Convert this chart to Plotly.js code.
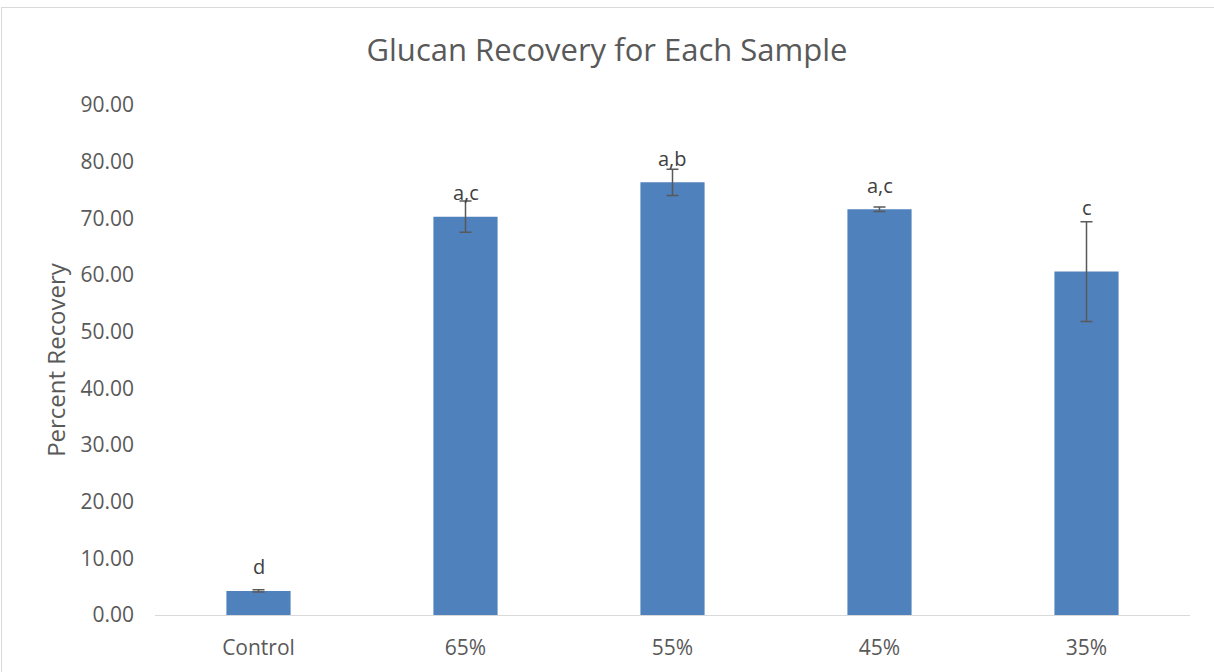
<!DOCTYPE html>
<html><head><meta charset="utf-8">
<script src="https://cdn.plot.ly/plotly-3.0.1.min.js"></script>
<style>
html,body{margin:0;padding:0;background:#fff;overflow:hidden;}
#chart{width:1214px;height:672px;position:absolute;left:0;top:0;}
#frame{position:absolute;left:1px;top:7px;width:1230px;height:700px;border:1px solid #d9d9d9;pointer-events:none;}
</style></head>
<body>
<div id="chart"></div>
<div id="frame"></div>
<script>
const categories = ["Control", "65%", "55%", "45%", "35%"];
const recovery = [4.24, 70.3, 76.35, 71.6, 60.6];
const errors = [0.2, 2.75, 2.3, 0.4, 8.8];
const letters = ["d", "a,c", "a,b", "a,c", "c"];
const yTicks = [0, 10, 20, 30, 40, 50, 60, 70, 80, 90];

const font = "Open Sans, Noto Sans, sans-serif";
const grey = "#595959";

const trace = {
  type: "bar",
  x: categories,
  y: recovery,
  marker: {color: "#4F81BD"},
  error_y: {type: "data", array: errors, visible: true, color: "#595959", thickness: 1.5, width: 6},
  hoverinfo: "x+y"
};

const annotations = categories.map((c, i) => {
  const useErr = errors[i] > 5;
  return {
    x: c, y: useErr ? recovery[i] + errors[i] : recovery[i],
    xref: "x", yref: "y", text: letters[i], showarrow: false,
    yanchor: "middle", yshift: useErr ? 14 : 24,
    font: {family: font, size: 20, color: "#404040"}
  };
});

const layout = {
  width: 1214, height: 672,
  margin: {l: 155, r: 24, t: 105, b: 57},
  paper_bgcolor: "rgba(0,0,0,0)", plot_bgcolor: "rgba(0,0,0,0)",
  title: {text: "Glucan Recovery for Each Sample", x: 0.5, xanchor: "center", y: 0.925, yanchor: "middle",
          font: {family: font, size: 31, color: grey}},
  bargap: 0.69,
  showlegend: false,
  xaxis: {
    type: "category",
    showline: true, linecolor: "#d9d9d9", linewidth: 1, ticks: "", showgrid: false,
    tickfont: {family: font, size: 21, color: grey}, ticklabelstandoff: 14
  },
  yaxis: {
    range: [0, 90], tickvals: yTicks, ticktext: yTicks.map(v => v.toFixed(2)),
    showgrid: false, zeroline: false, showline: false, ticks: "",
    tickfont: {family: font, size: 21, color: grey}, ticklabelstandoff: 20,
    title: {text: "Percent Recovery", font: {family: font, size: 24, color: grey}, standoff: 8}
  },
  annotations: annotations
};

Plotly.newPlot("chart", [trace], layout, {displayModeBar: false, staticPlot: true});
</script>
</body></html>
